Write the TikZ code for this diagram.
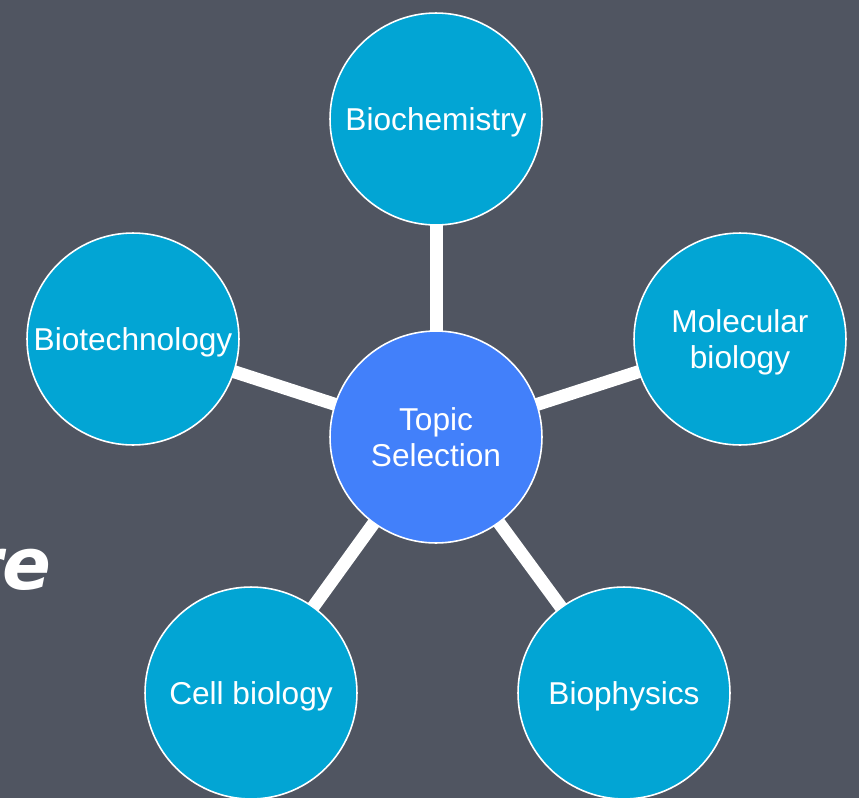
\documentclass[tikz,border=0pt]{standalone}
\usepackage{fontspec}
\setmainfont{Liberation Sans}
\newfontfamily\chalkfont{DejaVu Sans}
\definecolor{slate}{RGB}{80,85,97}
\definecolor{topicblue}{RGB}{66,128,250}
\definecolor{fieldcyan}{RGB}{2,165,212}
\pgfdeclarelayer{back}
\pgfdeclarelayer{mid}
\pgfsetlayers{back,mid,main}
\begin{document}
\begin{tikzpicture}[x=0.02cm, y=-0.02cm,
    field/.style={circle, draw=white, line width=0.9pt, fill=fieldcyan, text=white,
      minimum size=4.24cm, inner sep=0pt, text depth=0pt, align=center, font=\fontsize{18}{21}\selectfont},
    hub/.style={field, fill=topicblue},
    spoke/.style={white, line width=0.26cm}]
    \useasboundingbox (0, 0) rectangle (859, 798);
    \node[hub] (topic) at (436, 437) {Topic\\Selection};
    \node[field] (biochem) at (436, 119) {Biochemistry};
    \node[field] (molbio) at (740, 339) {Molecular\\biology};
    \node[field] (biophys) at (624, 693) {Biophysics};
    \node[field] (cellbio) at (251, 693) {Cell biology};
    \node[field] (biotech) at (133, 339) {Biotechnology};
    \node[anchor=base east, inner sep=0pt, text=white, font=\chalkfont\bfseries\itshape\fontsize{41}{41}\selectfont] (re) at (52, 589) {re};
    \begin{pgfonlayer}{back}
      \fill[slate] (0, 0) rectangle (859, 798);
    \end{pgfonlayer}
    \begin{pgfonlayer}{mid}
      \foreach \f in {biochem, molbio, biophys, cellbio, biotech}
        \draw[spoke] (topic.center) -- (\f.center);
    \end{pgfonlayer}
  \end{tikzpicture}
\end{document}
